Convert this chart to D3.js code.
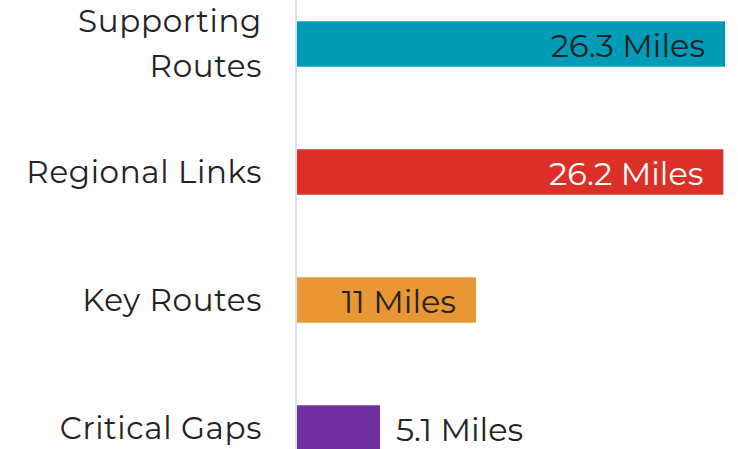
<!DOCTYPE html>
<html>
<head>
<meta charset="utf-8">
<script src="https://cdn.jsdelivr.net/npm/d3@7"></script>
<style>
  body { margin: 0; background: #fff; }
  svg text { font-family: Montserrat, "Open Sans", sans-serif; }
</style>
</head>
<body>
<div id="wrapper"></div>
<script>
// data
const categories = ["Supporting Routes", "Regional Links", "Key Routes", "Critical Gaps"];
const labelLines = [["Supporting", "Routes"], ["Regional Links"], ["Key Routes"], ["Critical Gaps"]];
const miles = [26.3, 26.2, 11, 5.1];
const valueLabels = ["26.3 Miles", "26.2 Miles", "11 Miles", "5.1 Miles"];
const barColors = ["#009bb6", "#dc2f28", "#e99634", "#7030a0"];
const labelColors = ["#222222", "#ffffff", "#222222", "#222222"];

function drawBarChart() {
  const dataset = categories.map((c, i) => ({
    category: c,
    lines: labelLines[i],
    value: miles[i],
    label: valueLabels[i],
    color: barColors[i],
    labelColor: labelColors[i],
  }));

  let dimensions = {
    width: 738,
    height: 449,
    margin: { top: -20, right: 13, bottom: -43, left: 297 },
  };
  dimensions.boundedWidth =
    dimensions.width - dimensions.margin.left - dimensions.margin.right;
  dimensions.boundedHeight =
    dimensions.height - dimensions.margin.top - dimensions.margin.bottom;

  const wrapper = d3
    .select("#wrapper")
    .append("svg")
    .attr("width", dimensions.width)
    .attr("height", dimensions.height);

  const bounds = wrapper
    .append("g")
    .attr("transform", `translate(${dimensions.margin.left},${dimensions.margin.top})`);

  const xScale = d3
    .scaleLinear()
    .domain([0, d3.max(miles)])
    .range([0, 428]);

  const yScale = d3
    .scaleBand()
    .domain(categories)
    .range([0, dimensions.boundedHeight])
    .paddingInner(0.645)
    .paddingOuter(0.3225);

  // bars
  bounds
    .selectAll(".bar")
    .data(dataset)
    .join("rect")
    .attr("class", "bar")
    .attr("x", 0)
    .attr("y", (d) => yScale(d.category))
    .attr("width", (d) => xScale(d.value))
    .attr("height", yScale.bandwidth())
    .attr("fill", (d) => d.color);

  // axis line
  bounds
    .append("line")
    .attr("x1", -1)
    .attr("x2", -1)
    .attr("y1", -dimensions.margin.top)
    .attr("y2", dimensions.boundedHeight)
    .attr("stroke", "#d6e2f1")
    .attr("stroke-width", 2);

  // category labels
  const lineHeight = 45;
  bounds
    .selectAll(".cat")
    .data(dataset)
    .join("text")
    .attr("class", "cat")
    .attr("text-anchor", "end")
    .attr("fill", "#222")
    .style("font-size", "31px")
    .style("letter-spacing", "0.65px")
    .each(function (d) {
      const cy = yScale(d.category) + yScale.bandwidth() / 2;
      const n = d.lines.length;
      d3.select(this)
        .selectAll("tspan")
        .data(d.lines)
        .join("tspan")
        .attr("x", -35)
        .attr("y", (l, i) => cy + (i - (n - 1) / 2) * lineHeight)
        .attr("dy", "0.35em")
        .text((l) => l);
    });

  // value labels
  bounds
    .selectAll(".val")
    .data(dataset)
    .join("text")
    .attr("class", "val")
    .style("font-size", "32px")
    .attr("fill", (d) => d.labelColor)
    .attr("dy", "0.4em")
    .attr("y", (d) => yScale(d.category) + yScale.bandwidth() / 2)
    .each(function (d) {
      const inside = xScale(d.value) > 150;
      d3.select(this)
        .attr("x", inside ? xScale(d.value) - 20 : xScale(d.value) + 16)
        .attr("text-anchor", inside ? "end" : "start");
    })
    .text((d) => d.label);
}

drawBarChart();
</script>
</body>
</html>
